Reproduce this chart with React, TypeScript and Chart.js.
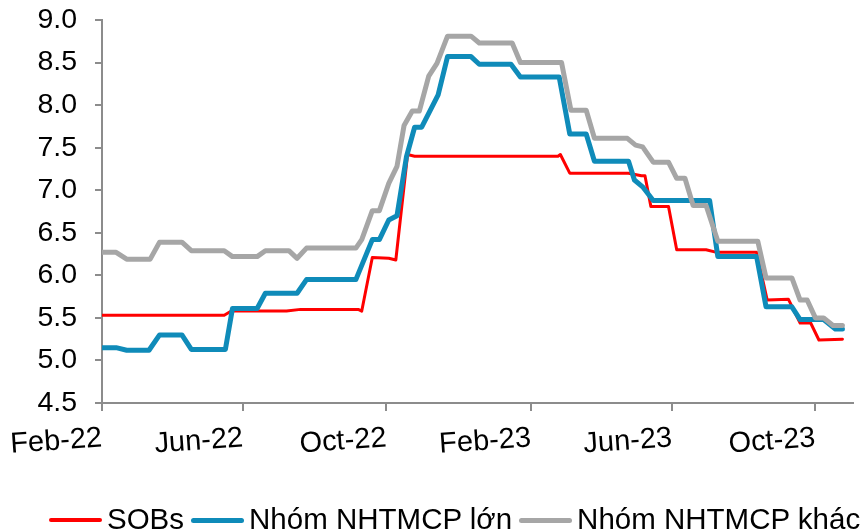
import React, { useEffect, useRef } from "react";
import { Chart, registerables } from "chart.js";

Chart.register(...registerables);

// X-axis tick labels (date axis, every 4 months)
const tickDates = ["2022-02-01", "2022-06-01", "2022-10-01", "2023-02-01", "2023-06-01", "2023-10-01"];
const tickLabels = ["Feb-22", "Jun-22", "Oct-22", "Feb-23", "Jun-23", "Oct-23"];

// Y-axis range
const yMin = 4.5;
const yMax = 9.0;
const yStep = 0.5;

// Series names
const seriesNames = ["SOBs", "Nhóm NHTMCP lớn", "Nhóm NHTMCP khác"];

// SOBs
const sobDates = [
  "2022-02-01", "2022-05-16", "2022-05-22", "2022-07-08", "2022-07-20", "2022-09-07", "2022-09-10",
  "2022-09-19", "2022-10-03", "2022-10-09", "2022-10-19", "2022-10-25", "2023-02-24", "2023-02-26",
  "2023-03-06", "2023-04-25", "2023-05-06", "2023-05-09", "2023-05-14", "2023-05-29", "2023-06-05",
  "2023-06-30", "2023-07-09", "2023-08-12", "2023-08-21", "2023-09-08", "2023-09-18", "2023-09-27",
  "2023-10-04", "2023-10-24",
];
const sobValues = [
  5.53, 5.53, 5.58, 5.58, 5.6, 5.6, 5.58,
  6.21, 6.2, 6.18, 7.42, 7.4, 7.4, 7.42,
  7.2, 7.2, 7.17, 7.17, 6.81, 6.81, 6.3,
  6.3, 6.27, 6.27, 5.71, 5.72, 5.44, 5.44,
  5.24, 5.25,
];

// Nhóm NHTMCP lớn
const bigDates = [
  "2022-02-01", "2022-02-13", "2022-02-22", "2022-03-13", "2022-03-22", "2022-04-10", "2022-04-18",
  "2022-05-17", "2022-05-23", "2022-06-13", "2022-06-20", "2022-07-17", "2022-07-25", "2022-09-05",
  "2022-09-19", "2022-09-25", "2022-10-03", "2022-10-10", "2022-10-18", "2022-10-25", "2022-10-31",
  "2022-11-14", "2022-11-22", "2022-12-12", "2022-12-19", "2023-01-15", "2023-01-23", "2023-02-25",
  "2023-03-06", "2023-03-20", "2023-03-27", "2023-04-25", "2023-04-30", "2023-05-07", "2023-05-16",
  "2023-07-03", "2023-07-10", "2023-08-12", "2023-08-20", "2023-09-11", "2023-09-18", "2023-10-08",
  "2023-10-18", "2023-10-24",
];
const bigValues = [
  5.15, 5.15, 5.12, 5.12, 5.3, 5.3, 5.13,
  5.13, 5.61, 5.61, 5.79, 5.79, 5.95, 5.95,
  6.42, 6.42, 6.65, 6.7, 7.39, 7.74, 7.74,
  8.12, 8.57, 8.57, 8.48, 8.48, 8.33, 8.33,
  7.66, 7.66, 7.34, 7.34, 7.12, 7.04, 6.88,
  6.88, 6.22, 6.22, 5.63, 5.63, 5.48, 5.48,
  5.37, 5.37,
];

// Nhóm NHTMCP khác
const otherDates = [
  "2022-02-01", "2022-02-13", "2022-02-22", "2022-03-14", "2022-03-22", "2022-04-10", "2022-04-18",
  "2022-05-16", "2022-05-23", "2022-06-13", "2022-06-20", "2022-07-10", "2022-07-17", "2022-07-25",
  "2022-09-05", "2022-09-10", "2022-09-19", "2022-09-25", "2022-10-03", "2022-10-10", "2022-10-16",
  "2022-10-23", "2022-10-29", "2022-11-06", "2022-11-13", "2022-11-22", "2022-12-12", "2022-12-19",
  "2023-01-16", "2023-01-23", "2023-02-27", "2023-03-07", "2023-03-20", "2023-03-27", "2023-04-24",
  "2023-05-01", "2023-05-07", "2023-05-16", "2023-05-29", "2023-06-05", "2023-06-12", "2023-06-19",
  "2023-06-30", "2023-07-10", "2023-08-13", "2023-08-20", "2023-09-11", "2023-09-18", "2023-09-24",
  "2023-10-01", "2023-10-08", "2023-10-16", "2023-10-24",
];
const otherValues = [
  6.27, 6.27, 6.19, 6.19, 6.39, 6.39, 6.29,
  6.29, 6.22, 6.22, 6.29, 6.29, 6.2, 6.32,
  6.32, 6.42, 6.76, 6.76, 7.08, 7.28, 7.76,
  7.93, 7.93, 8.34, 8.49, 8.81, 8.81, 8.73,
  8.73, 8.5, 8.5, 7.94, 7.94, 7.61, 7.61,
  7.53, 7.51, 7.33, 7.33, 7.14, 7.14, 6.82,
  6.82, 6.4, 6.4, 5.97, 5.97, 5.71, 5.71,
  5.5, 5.5, 5.41, 5.41,
];

const seriesColors = ["#FF0000", "#0F8BB9", "#A6A6A6"];
const seriesWidths = [3, 5, 5];

const BASE = Date.UTC(2022, 1, 1);
const toDay = (s: string) => {
  const [y, m, d] = s.split("-").map(Number);
  return (Date.UTC(y, m - 1, d) - BASE) / 86400000;
};
const xMax = toDay("2023-10-01") + 32;

const FONT = "'Liberation Sans', Arial, sans-serif";

export default function App() {
  const ref = useRef<HTMLCanvasElement>(null);

  useEffect(() => {
    const tickDays = tickDates.map(toDay);
    const mk = (dates: string[], values: number[]) =>
      dates.map((d, i) => ({ x: toDay(d), y: values[i] }));
    const seriesData = [mk(sobDates, sobValues), mk(bigDates, bigValues), mk(otherDates, otherValues)];
    // draw order: gray on top, then blue, then red
    const datasets = [2, 1, 0].map((i) => ({
      label: seriesNames[i],
      data: seriesData[i],
      borderColor: seriesColors[i],
      backgroundColor: seriesColors[i],
      borderWidth: seriesWidths[i],
      pointRadius: 0,
      tension: 0,
      fill: false,
      borderJoinStyle: "round" as const,
      borderCapStyle: "round" as const,
    }));

    const axisColor = "#8C8C8C";
    const chart = new Chart(ref.current!, {
      type: "line",
      data: { datasets },
      options: {
        animation: false,
        responsive: false,
        maintainAspectRatio: false,
        layout: { padding: { left: 38, top: 20, right: 7, bottom: 69 } },
        plugins: { legend: { display: false }, tooltip: { enabled: false } },
        scales: {
          x: {
            type: "linear",
            min: 0,
            max: xMax,
            afterBuildTicks: (scale: any) => {
              scale.ticks = tickDays.map((v) => ({ value: v }));
            },
            afterFit: (s: any) => {
              s.height = 60;
              s.paddingLeft = 0;
              s.paddingRight = 0;
              s.paddingTop = 0;
              s.paddingBottom = 0;
            },
            ticks: {
              autoSkip: false,
              minRotation: 4,
              maxRotation: 4,
              align: "end",
              padding: 10,
              color: "#000",
              font: { family: FONT, size: 29 },
              callback: (v: any) => {
                const i = tickDays.indexOf(Number(v));
                return i >= 0 ? tickLabels[i] : "";
              },
            },
            grid: { drawOnChartArea: false, drawTicks: true, tickLength: 8, color: axisColor, lineWidth: 2 },
            border: { display: true, color: axisColor, width: 2 },
          },
          y: {
            min: yMin,
            max: yMax,
            afterFit: (s: any) => {
              s.width = 64;
              s.paddingLeft = 0;
              s.paddingRight = 0;
              s.paddingTop = 0;
              s.paddingBottom = 0;
            },
            ticks: {
              stepSize: yStep,
              padding: 18,
              color: "#000",
              font: { family: FONT, size: 28.5 },
              callback: (v: any) => Number(v).toFixed(1),
            },
            grid: { drawOnChartArea: false, drawTicks: true, tickLength: 7, color: axisColor, lineWidth: 2 },
            border: { display: true, color: axisColor, width: 2 },
          },
        },
      },
    });
    return () => chart.destroy();
  }, []);

  return (
    <div style={{ position: "absolute", left: 0, top: 0, width: 860, height: 532, background: "#fff", overflow: "hidden" }}>
      <canvas ref={ref} width={860} height={532} style={{ display: "block" }} />
      <div
        style={{
          position: "absolute",
          left: 49,
          top: 504,
          display: "flex",
          alignItems: "center",
          whiteSpace: "nowrap",
          fontFamily: FONT,
          fontSize: 29.5,
          lineHeight: "29px",
          color: "#000",
        }}
      >
        {seriesNames.map((n, i) => (
          <div key={n} style={{ display: "flex", alignItems: "center", marginRight: 7 }}>
            <span
              style={{
                display: "inline-block",
                width: 53,
                height: i === 0 ? 4 : 5,
                borderRadius: 3,
                background: seriesColors[i],
                marginTop: 3,
                marginRight: 5,
              }}
            />
            <span>{n}</span>
          </div>
        ))}
      </div>
    </div>
  );
}
